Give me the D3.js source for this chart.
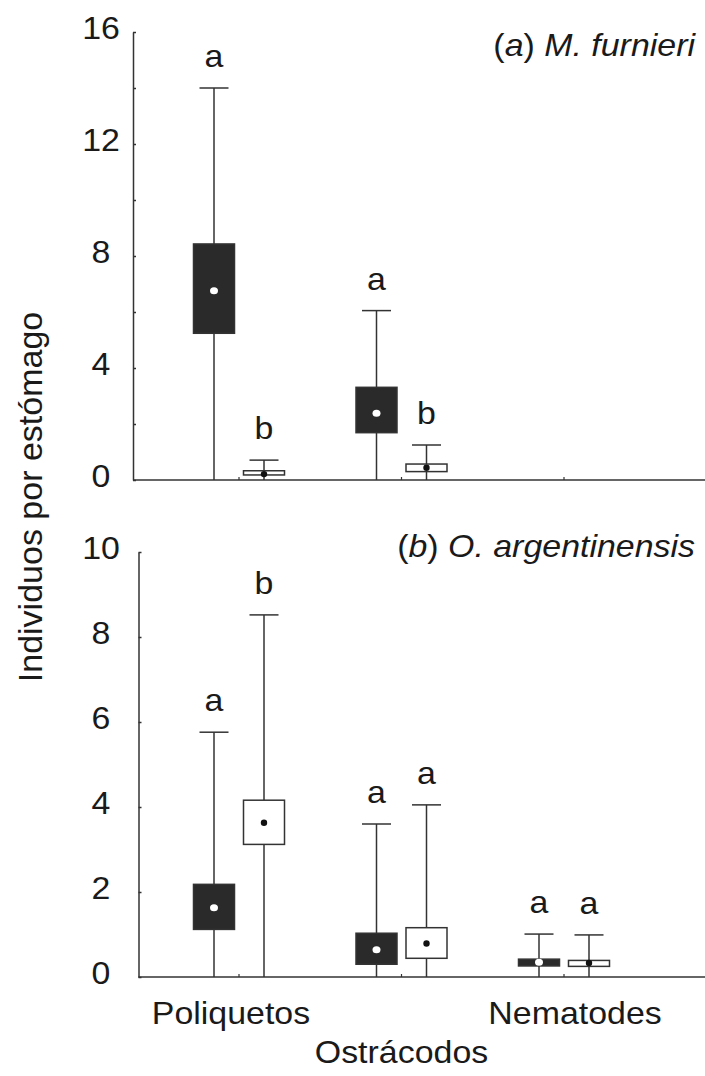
<!DOCTYPE html>
<html>
<head>
<meta charset="utf-8">
<script src="https://cdn.jsdelivr.net/npm/d3@7"></script>
<style>
  html, body { margin: 0; padding: 0; background: #fff; }
  svg { display: block; }
  text { font-family: "Liberation Sans", Arial, Helvetica, sans-serif; fill: #1a1a1a; }
</style>
</head>
<body>
<svg id="chart" width="705" height="1076"></svg>
<script>
// Prey categories on the shared x axis
const categories = ["Poliquetos", "Ostrácodos", "Nematodes"];
const series = ["oscuro", "claro"];

// Box statistics per category: [min, Q1, median, Q3, max]; null = not present
const furnieriDark  = [[0, 5.24, 6.76, 8.43, 14.0], [0, 1.69, 2.38, 3.31, 6.05], null];
const furnieriLight = [[0, 0.18, 0.21, 0.33, 0.71], [0, 0.30, 0.44, 0.57, 1.25], null];
const furnieriLetters = [["a", "b"], ["a", "b"], null];

const argentDark  = [[0, 1.12, 1.63, 2.18, 5.76], [0, 0.30, 0.64, 1.03, 3.60], [0, 0.26, 0.35, 0.42, 1.01]];
const argentLight = [[0, 3.12, 3.63, 4.16, 8.52], [0, 0.44, 0.79, 1.16, 4.05], [0, 0.25, 0.33, 0.39, 0.99]];
const argentLetters = [["a", "b"], ["a", "a"], ["a", "a"]];

// Axis ticks
const furnieriTicks = [0, 2, 4, 6, 8, 10, 12, 14, 16];
const furnieriTickLabels = [0, 4, 8, 12, 16];
const argentTicks = [0, 2, 4, 6, 8, 10];
const argentTickLabels = [0, 2, 4, 6, 8, 10];

const svg = d3.select("#chart");
const INK = "#333";
const FS = 32, SX = 1.06;

function label(g, x, y, anchor, parts, size) {
  const t = g.append("text")
    .attr("transform", `translate(${x},${y}) scale(${SX},1)`)
    .attr("text-anchor", anchor)
    .style("font-size", (size || FS) + "px");
  parts.forEach(p => {
    t.append("tspan").text(p.t).style("font-style", p.i ? "italic" : "normal");
  });
  return t;
}

const x = d3.scalePoint().domain(categories).range([239, 564]);
const xs = d3.scaleOrdinal().domain(series).range([-25, 25]);
const boxW = 41, capW = 29;

function panel(cfg) {
  const g = svg.append("g");
  const y = d3.scaleLinear().domain([0, cfg.max]).range([cfg.y0, cfg.y1]);

  // y axis with small inward ticks
  g.append("g")
    .attr("transform", `translate(${cfg.left},0)`)
    .call(d3.axisLeft(y).tickValues(cfg.ticks).tickSizeInner(-3).tickSizeOuter(0).tickFormat(""))
    .call(a => a.selectAll("path, line").attr("stroke", INK).attr("stroke-width", 1.5));

  // x axis line and small category ticks
  g.append("line").attr("x1", cfg.left).attr("x2", 705)
    .attr("y1", y(0)).attr("y2", y(0)).attr("stroke", INK).attr("stroke-width", 1.5);
  g.append("g").selectAll("line").data(categories).join("line")
    .attr("x1", d => x(d)).attr("x2", d => x(d))
    .attr("y1", y(0)).attr("y2", y(0) - 3)
    .attr("stroke", INK).attr("stroke-width", 1.2);

  // tick labels
  cfg.tickLabels.forEach(v => label(g, 101, y(v) + 7, "middle", [{ t: String(v) }]));

  // boxes
  const sets = [cfg.dark, cfg.light];
  sets.forEach((arr, si) => {
    arr.forEach((s, ci) => {
      if (!s) return;
      const [mn, q1, md, q3, mx] = s;
      const cx = x(categories[ci]) + xs(series[si]);
      const dark = si === 0;
      // whisker
      g.append("line").attr("x1", cx).attr("x2", cx).attr("y1", y(mn)).attr("y2", y(mx))
        .attr("stroke", INK).attr("stroke-width", 1.5);
      g.append("line").attr("x1", cx - capW / 2).attr("x2", cx + capW / 2)
        .attr("y1", y(mx)).attr("y2", y(mx)).attr("stroke", INK).attr("stroke-width", 1.5);
      // box
      g.append("rect").attr("x", cx - boxW / 2).attr("width", boxW)
        .attr("y", y(q3)).attr("height", y(q1) - y(q3))
        .attr("fill", dark ? "#2a2a2a" : "#fff")
        .attr("stroke", INK).attr("stroke-width", 1.5);
      // median
      g.append("ellipse").attr("cx", cx).attr("cy", y(md))
        .attr("rx", dark ? 4 : 3.2).attr("ry", dark ? 3.5 : 3.2)
        .attr("fill", dark ? "#fff" : "#111");
      // significance letter
      const L = cfg.letters[ci];
      if (L) label(g, cx, y(mx) - 21, "middle", [{ t: L[si] }]);
    });
  });

  // panel title
  label(g, 695, cfg.titleY, "end", cfg.title);
}

panel({
  max: 16, y0: 480, y1: 32, left: 133,
  ticks: furnieriTicks, tickLabels: furnieriTickLabels,
  dark: furnieriDark, light: furnieriLight, letters: furnieriLetters,
  titleY: 56,
  title: [{ t: "(" }, { t: "a", i: true }, { t: ") " }, { t: "M. furnieri", i: true }]
});

panel({
  max: 10, y0: 977, y1: 552, left: 138.5,
  ticks: argentTicks, tickLabels: argentTickLabels,
  dark: argentDark, light: argentLight, letters: argentLetters,
  titleY: 557,
  title: [{ t: "(" }, { t: "b", i: true }, { t: ") " }, { t: "O. argentinensis", i: true }]
});

// staggered category labels
const catOffset = [-8, 0, 11];
const catBase = [1024, 1063, 1024];
categories.forEach((c, i) => label(svg, x(c) + catOffset[i], catBase[i], "middle", [{ t: c }]));

// y axis title
svg.append("text")
  .attr("transform", "translate(42,497) rotate(-90)")
  .attr("text-anchor", "middle")
  .style("font-size", "34px")
  .text("Individuos por estómago");
</script>
</body>
</html>
